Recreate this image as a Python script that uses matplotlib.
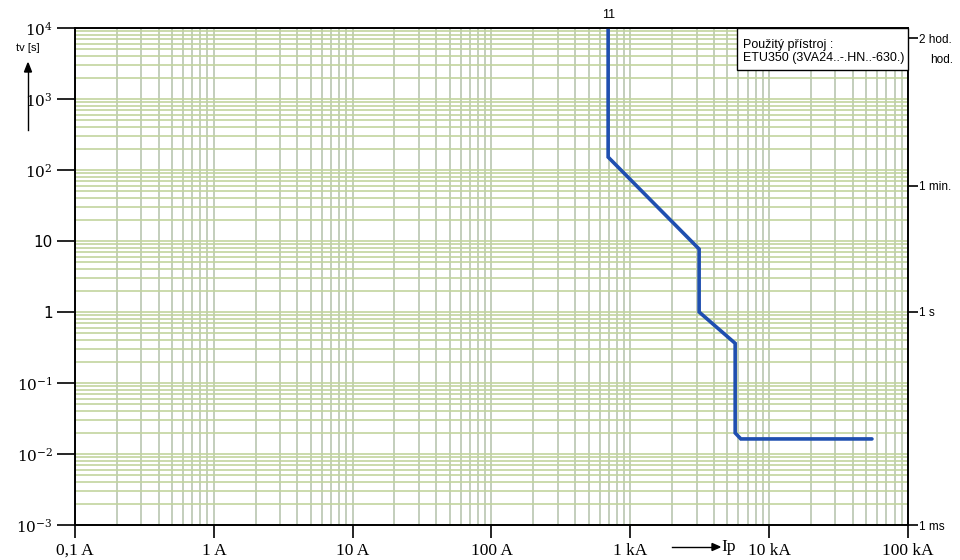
import matplotlib.pyplot as plt
import matplotlib.transforms as mtransforms
from matplotlib.patches import Rectangle
from matplotlib.ticker import LogLocator, NullFormatter, NullLocator

# tripping curve of the breaker (current in A, time in s)
curr = [692, 692, 3130, 3130, 5690, 5690, 6250, 55000]
ttrip = [10000, 152, 7.7, 1.0, 0.362, 0.0198, 0.0163, 0.0163]

x_ticks = [0.1, 1, 10, 100, 1000, 10000, 100000]
x_labels = ['0,1 A', '1 A', '10 A', '100 A', '1 kA', '10 kA', '100 kA']
y_ticks = [1e-3, 1e-2, 1e-1, 1, 10, 1e2, 1e3, 1e4]
y_labels = [r'$10^{-3}$', r'$10^{-2}$', r'$10^{-1}$', '1', '10',
            r'$10^{2}$', r'$10^{3}$', r'$10^{4}$']
r_ticks = [7200, 60, 1, 0.001]
r_labels = ['2 hod.', '1 min.', '1 s', '1 ms']

plt.rcParams['mathtext.fontset'] = 'dejavuserif'

fig = plt.figure(figsize=(9.6, 5.6), dpi=100)
ax = fig.add_axes([75/960, 1-525/560, 833/960, 497/560])
ax.set_xscale('log')
ax.set_yscale('log')
ax.set_xlim(0.1, 1e5)
ax.set_ylim(1e-3, 1e4)

# grid
ax.xaxis.set_minor_locator(LogLocator(base=10, subs=range(2, 10), numticks=20))
ax.yaxis.set_minor_locator(LogLocator(base=10, subs=range(2, 10), numticks=20))
ax.xaxis.set_minor_formatter(NullFormatter())
ax.yaxis.set_minor_formatter(NullFormatter())
ax.grid(True, which='both', axis='x', color='#b9c6b0', lw=1.2)
ax.grid(True, which='both', axis='y', color='#c2d49e', lw=1.2)
ax.set_axisbelow(True)

ax.plot(curr, ttrip, color='#1f4fb0', lw=2.6, solid_joinstyle='miter',
        solid_capstyle='round', zorder=3)
ax.text(692, 1.25e4, '11', ha='center', va='bottom', fontsize=9,
        family='Liberation Sans')

ax.set_xticks(x_ticks)
ax.set_xticklabels(x_labels, family='Liberation Serif', fontsize=12.5)
ax.set_yticks(y_ticks)
ax.set_yticklabels(y_labels, fontsize=11)
ax.tick_params(axis='x', which='major', length=9, width=1.2, pad=4)
ax.tick_params(axis='y', which='major', length=13, width=1.2, pad=3)
ax.tick_params(which='minor', length=0)
for s in ax.spines.values():
    s.set_linewidth(1.2)

# right axis with time units
ax2 = ax.twinx()
ax2.set_yscale('log')
ax2.set_ylim(1e-3, 1e4)
ax2.set_yticks(r_ticks)
ax2.set_yticklabels(r_labels, family='Liberation Sans', fontsize=8.5)
ax2.yaxis.set_minor_locator(NullLocator())
ax2.yaxis.set_minor_formatter(NullFormatter())
ax2.tick_params(axis='y', which='major', length=7, width=1.2, pad=1)
for s in ax2.spines.values():
    s.set_linewidth(1.2)

trans = mtransforms.blended_transform_factory(ax.transAxes, ax.transData)
ax2.text(1.0 + 22/833, 3600, 'hod.', transform=trans, ha='left', va='center',
         fontsize=8.5, family='Liberation Sans')

# device box
box = Rectangle((662/833, 1-42/497), 171/833, 42/497, transform=ax.transAxes,
                facecolor='white', edgecolor='black', lw=1.0, zorder=5,
                clip_on=False)
ax2.add_patch(box)
ax2.text(668/833, 1-11/497, 'Použitý přístroj :', transform=ax.transAxes,
         ha='left', va='top', fontsize=9, family='Liberation Sans', zorder=6)
ax2.text(668/833, 1-24/497, 'ETU350 (3VA24..-.HN..-630.)', transform=ax.transAxes,
         ha='left', va='top', fontsize=9, family='Liberation Sans', zorder=6)

# axis captions with arrows
fig.text(28/960, 1-48/560, 'tv [s]', ha='center', va='center', fontsize=8,
         family='Liberation Sans')
fig.add_artist(plt.Line2D([28/960, 28/960], [1-130/560, 1-70/560], color='black',
                          lw=1.0))
fig.patches.append(plt.Polygon([[24.5/960, 1-72/560], [31.5/960, 1-72/560],
                                [28/960, 1-63/560]], closed=True, color='black',
                               transform=fig.transFigure, figure=fig))
fig.add_artist(plt.Line2D([672/960, 714/960], [1-547/560, 1-547/560], color='black',
                          lw=1.0))
fig.patches.append(plt.Polygon([[712/960, 1-543.5/560], [712/960, 1-550.5/560],
                                [720/960, 1-547/560]], closed=True, color='black',
                               transform=fig.transFigure, figure=fig))
fig.text(721/960, 1-547/560, 'Ip', ha='left', va='center', fontsize=12.5,
         family='Liberation Serif')

fig.savefig('out.png', dpi=100, facecolor='white')
